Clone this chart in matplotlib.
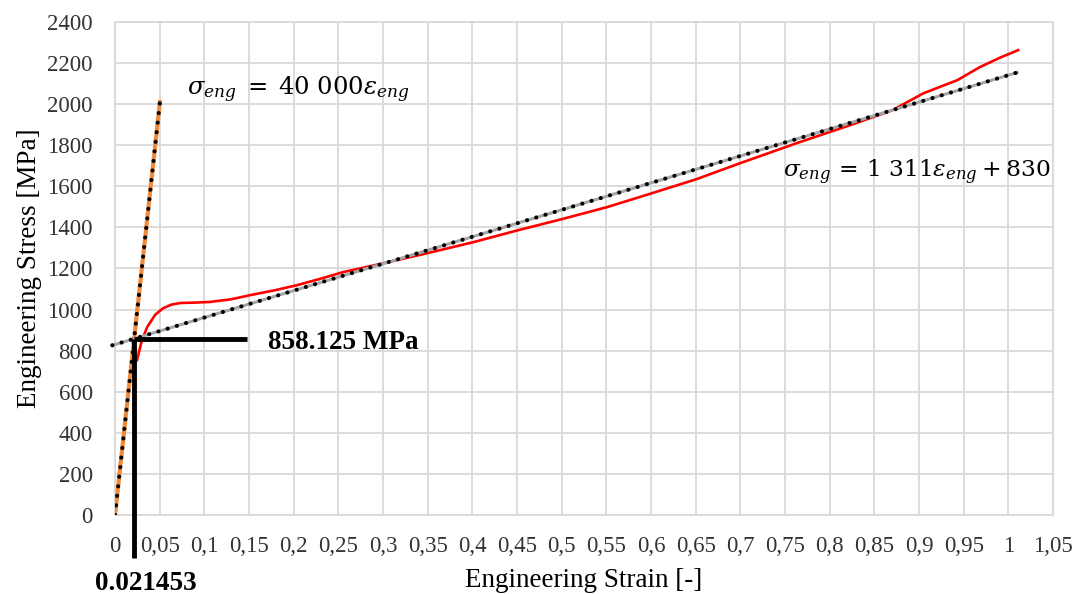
import matplotlib.pyplot as plt
import numpy as np

plt.rcParams['font.family'] = ['Liberation Serif', 'DejaVu Serif']
plt.rcParams['mathtext.fontset'] = 'dejavuserif'

strain = [0.0246, 0.030, 0.036, 0.045, 0.054, 0.063, 0.073, 0.09, 0.106, 0.13, 0.151,
          0.18, 0.204, 0.23, 0.255, 0.30, 0.35, 0.401, 0.45, 0.50, 0.551, 0.60,
          0.651, 0.70, 0.763, 0.823, 0.87, 0.905, 0.943, 0.968, 0.99, 1.011]
stress = [754, 850, 915, 975, 1007, 1024, 1032, 1034, 1037, 1050, 1070,
          1095, 1119, 1150, 1182, 1225, 1275, 1328, 1385, 1440, 1499, 1565,
          1635, 1713, 1810, 1898, 1970, 2053, 2117, 2180, 2225, 2263]

# fitted lines
e_mod = 40000
elastic_x = [0, 0.0505]
fit_slope = 1311
fit_icpt = 830
fit_x = [-0.003, 1.01]

# yield point
yield_strain = 0.021453
yield_stress = 858.125

xticks = np.round(np.arange(0, 1.0501, 0.05), 2)
yticks = np.arange(0, 2401, 200)

fig = plt.figure(figsize=(10.79, 5.94), dpi=100)
ax = fig.add_axes([0.1066, 0.133, 0.8693, 0.830])

dots = (0, (0.01, 2.3))

ey = [e_mod * v for v in elastic_x]
ax.plot(elastic_x, ey, color='#f08a3c', lw=3, solid_capstyle='butt', zorder=3)
ax.plot(elastic_x, ey, color='black', lw=3.0, ls=dots, dash_capstyle='round', zorder=4)
ax.plot(strain, stress, color='#ff0000', lw=1.9, zorder=3)
fx = np.array(fit_x)
ax.plot(fx, fit_slope * fx + fit_icpt, color='#a6a6a6', lw=2.2, zorder=4, clip_on=False)
ax.plot(fx, fit_slope * fx + fit_icpt, color='black', lw=3.0, ls=dots,
        dash_capstyle='round', zorder=5, clip_on=False)

# yield marker lines
ax.plot([yield_strain, 0.148], [yield_stress, yield_stress], color='black', lw=3.5,
        solid_capstyle='butt', zorder=6)
ax.plot([yield_strain, yield_strain], [yield_stress, -209], color='black', lw=3.5,
        solid_capstyle='butt', zorder=6, clip_on=False)

ax.text(0.171, 842, '858.125 MPa', fontsize=19.5, fontweight='bold', va='center', ha='left')
ax.text(-0.0224, -333, '0.021453', fontsize=19.5, fontweight='bold', va='center', ha='left')

ax.text(0.081, 2068, r'$\sigma_{eng}\;=\;40\ 000\varepsilon_{eng}$', fontsize=17.5, va='center', ha='left')
ax.text(0.748, 1669, r'$\sigma_{eng}\,=\,1\ 311\varepsilon_{eng}+830$', fontsize=16.8, va='center', ha='left')

ax.set_xlim(0, 1.05)
ax.set_ylim(0, 2400)
ax.set_xticks(xticks)
ax.set_xticklabels([('%g' % v).replace('.', ',') for v in xticks], fontsize=16.5)
ax.set_yticks(yticks)
ax.set_yticklabels([str(v) for v in yticks], fontsize=16.5)
ax.tick_params(length=0, colors='#333333')
ax.tick_params(axis='x', pad=15)
ax.tick_params(axis='y', pad=16)
ax.grid(True, color='#d9d9d9', lw=1.3)
ax.set_axisbelow(True)
for s in ax.spines.values():
    s.set_color('#d9d9d9')
    s.set_linewidth(1.3)

ax.set_xlabel('Engineering Strain [-]', fontsize=19.5, labelpad=8)
ax.set_ylabel('Engineering Stress [MPa]', fontsize=19.5, labelpad=4)

fig.savefig('out.png', dpi=100)
